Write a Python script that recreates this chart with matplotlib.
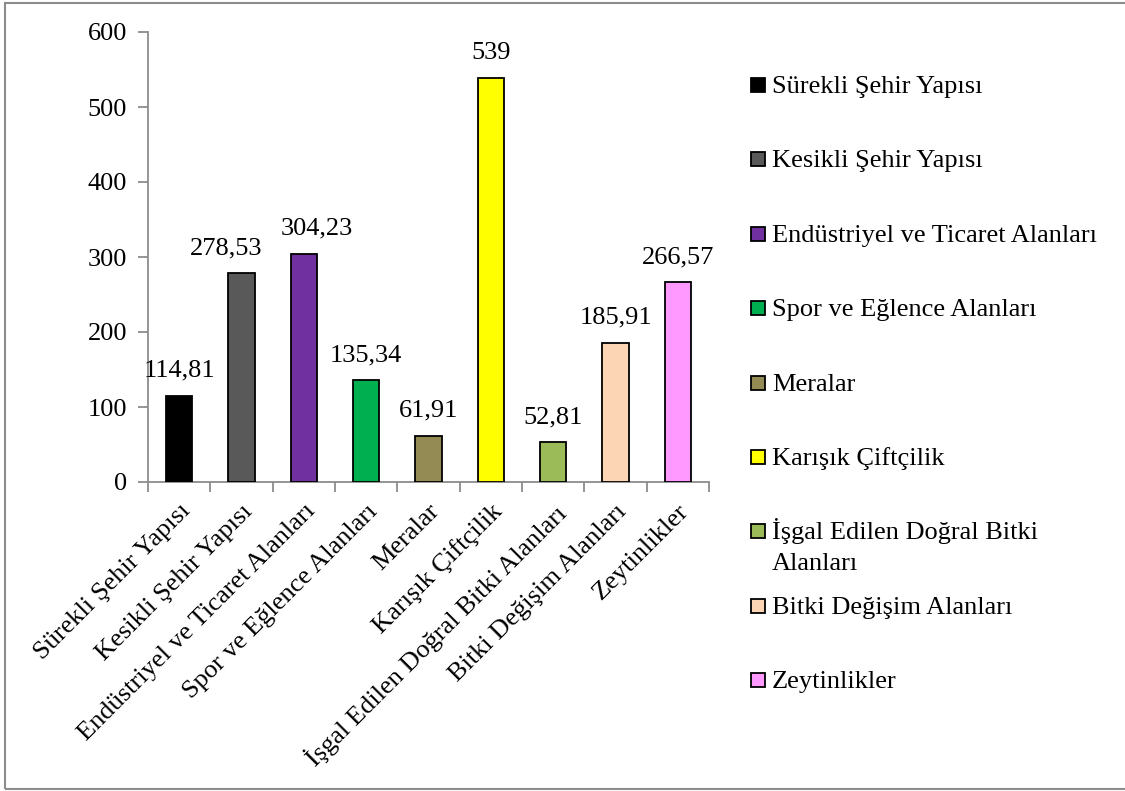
import numpy as np
import matplotlib.pyplot as plt
from matplotlib.patches import Rectangle

# Categories and values
categories = ['Sürekli Şehir Yapısı', 'Kesikli Şehir Yapısı', 'Endüstriyel ve Ticaret Alanları',
              'Spor ve Eğlence Alanları', 'Meralar', 'Karışık Çiftçilik',
              'İşgal Edilen Doğral Bitki Alanları', 'Bitki Değişim Alanları', 'Zeytinlikler']
legend_labels = ['Sürekli Şehir Yapısı', 'Kesikli Şehir Yapısı', 'Endüstriyel ve Ticaret Alanları',
                 'Spor ve Eğlence Alanları', 'Meralar', 'Karışık Çiftçilik',
                 'İşgal Edilen Doğral Bitki\nAlanları', 'Bitki Değişim Alanları', 'Zeytinlikler']
values = [114.81, 278.53, 304.23, 135.34, 61.91, 539, 52.81, 185.91, 266.57]
value_labels = ['114,81', '278,53', '304,23', '135,34', '61,91', '539', '52,81', '185,91', '266,57']
colors = ['#000000', '#595959', '#7030A0', '#00B050', '#948A54', '#FFFF00', '#9BBB59', '#FCD5B5', '#FF99FF']

# small manual shifts of data labels (pixels)
label_dx = [0, -15, 13, 0, 0, 0, 0, 0, 0]

plt.rcParams['font.family'] = ['Liberation Serif', 'DejaVu Serif']
fs = 19

W, H = 1125, 791
fig = plt.figure(figsize=(W / 100, H / 100), dpi=100)

# outer chart border
fig.patches.append(Rectangle((5 / W, 1 - 789 / H), 1.2, 786 / H, transform=fig.transFigure,
                             fill=False, edgecolor='#8c8c8c', linewidth=1.5))

ax = fig.add_axes([148 / W, 1 - 482 / H, (709 - 148) / W, 450 / H])
x = np.arange(len(values))
ax.bar(x, values, width=0.42, color=colors, edgecolor='black', linewidth=1.3, zorder=3)

ax.set_xlim(-0.5, len(values) - 0.5)
ax.set_ylim(0, 600)
ax.set_yticks(range(0, 601, 100))
ax.tick_params(axis='y', labelsize=fs, length=7, width=1.3, color='#8c8c8c', pad=8)

ax.set_xticks(x)
ax.set_xticklabels(categories, rotation=45, ha='right', va='top', rotation_mode='anchor', fontsize=fs)
ax.tick_params(axis='x', which='major', length=0, pad=13)
ax.set_xticks(np.arange(-0.5, len(values)), minor=True)
ax.tick_params(axis='x', which='minor', length=7, width=1.3, color='#8c8c8c')

for s in ['top', 'right']:
    ax.spines[s].set_visible(False)
for s in ['left', 'bottom']:
    ax.spines[s].set_color('#8c8c8c')
    ax.spines[s].set_linewidth(1.3)

# data labels
for i, (v, lab) in enumerate(zip(values, value_labels)):
    ax.annotate(lab, (i, v), xytext=(label_dx[i] * 0.72, 19 * 0.72), textcoords='offset points',
                ha='center', va='baseline', fontsize=fs)

# legend drawn as a column of markers and labels
for i, (lab, c) in enumerate(zip(legend_labels, colors)):
    yp = 85 + 74.4 * i
    fig.patches.append(Rectangle((751 / W, 1 - (yp + 7) / H), 14 / W, 14 / H, transform=fig.transFigure,
                                 facecolor=c, edgecolor='black', linewidth=1.3))
    for j, line in enumerate(lab.split('\n')):
        fig.text(772 / W, 1 - (yp + 8 + 31 * j) / H, line, fontsize=fs, ha='left', va='baseline')

fig.savefig('out.png', dpi=100)
